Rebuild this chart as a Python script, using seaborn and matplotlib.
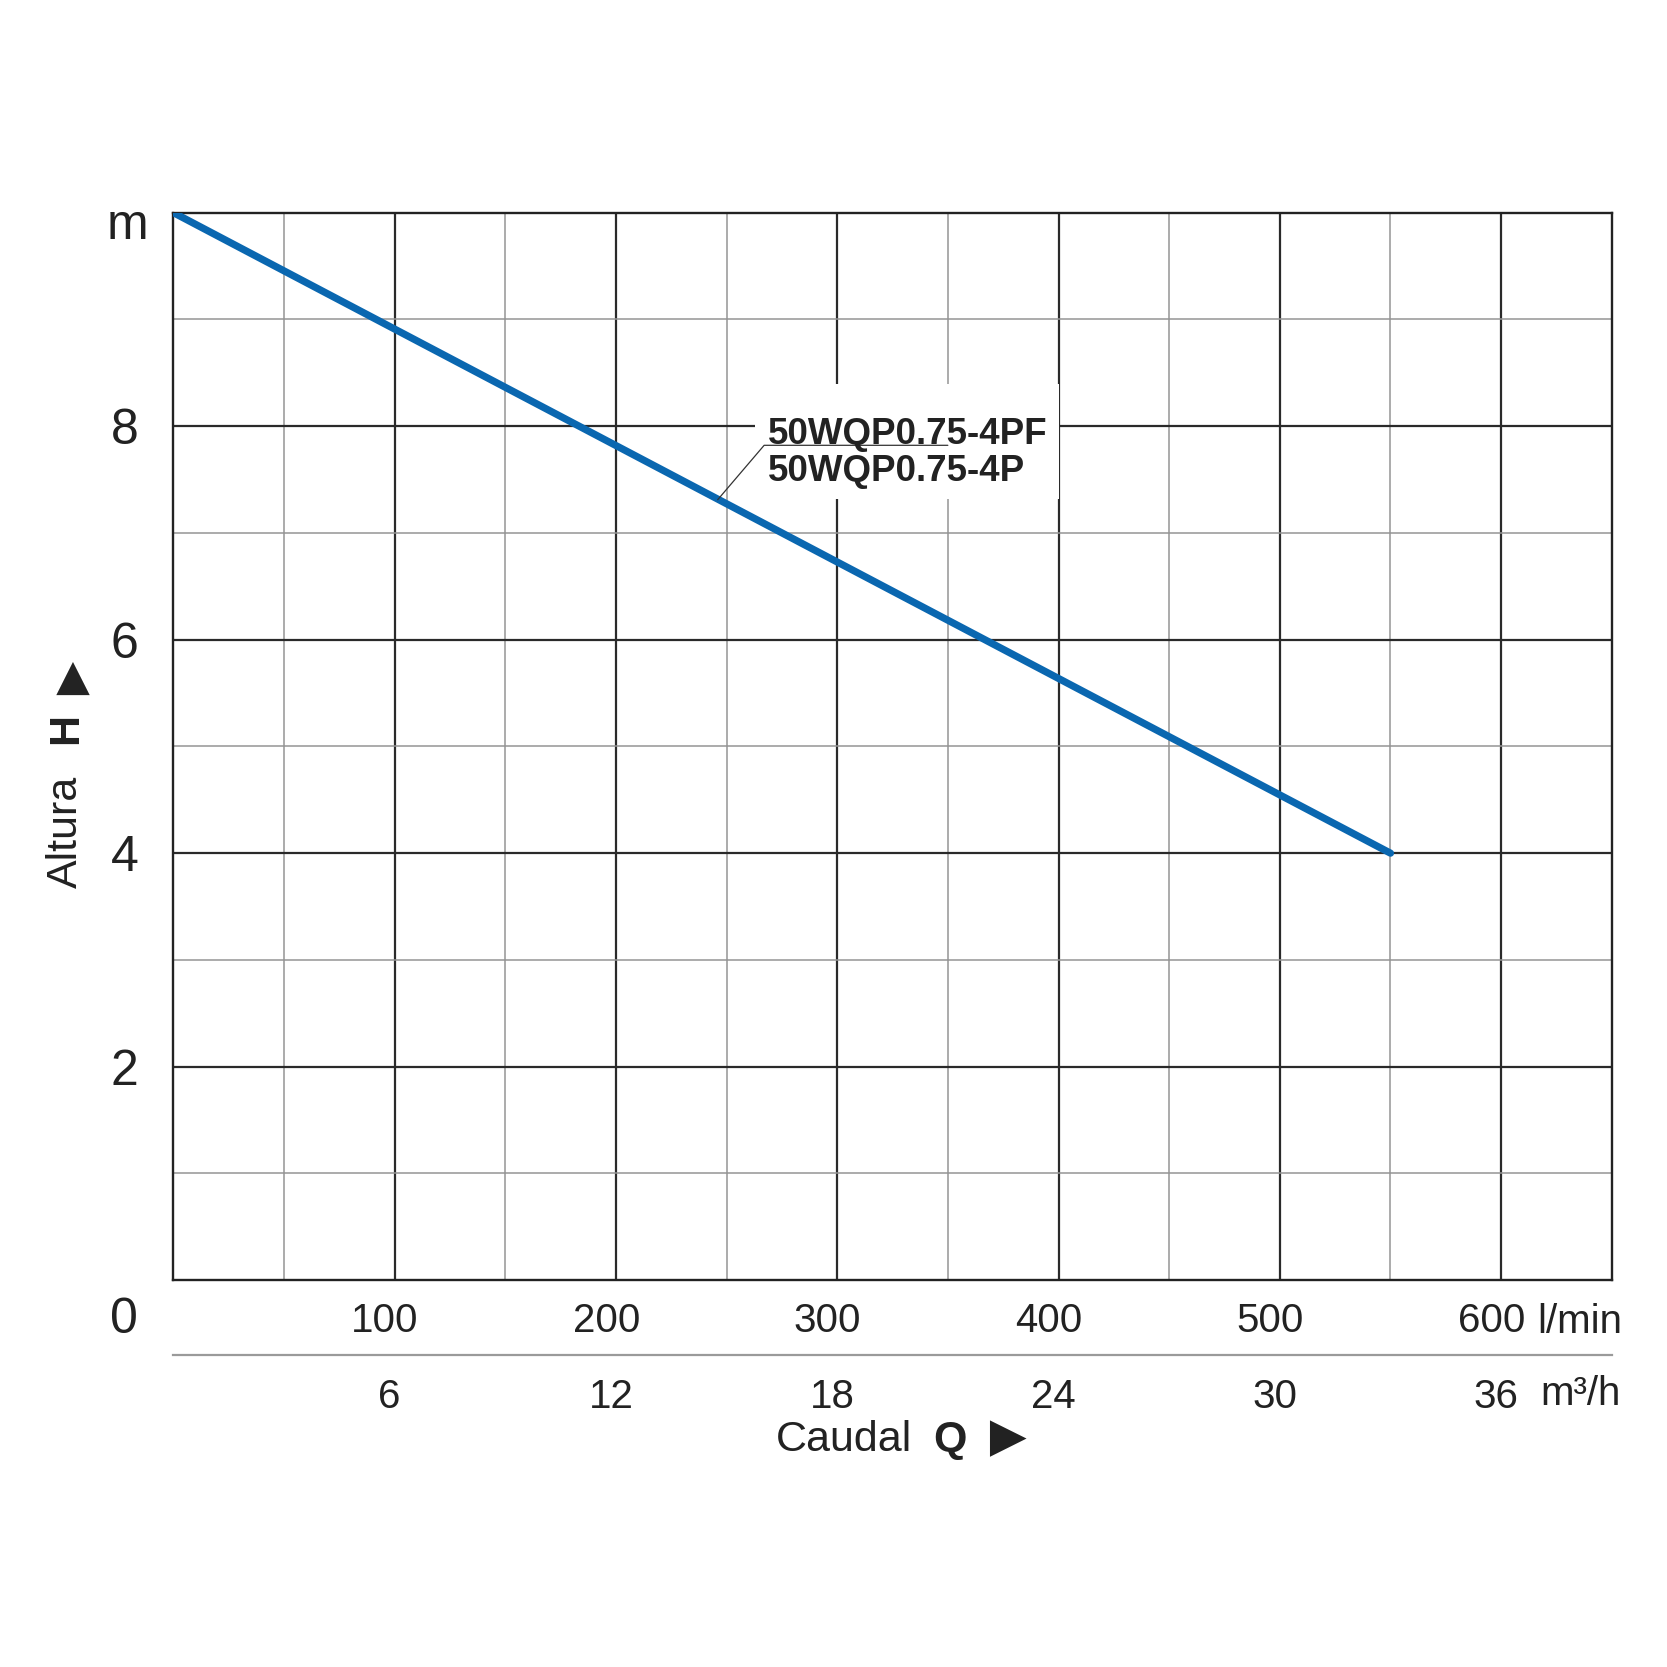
import matplotlib
matplotlib.use("Agg")
import matplotlib.pyplot as plt
import matplotlib.transforms as mtransforms
from matplotlib.patches import Rectangle
from matplotlib.ticker import MultipleLocator
import seaborn as sns

# Curve data
flow_lpm = [0, 550]
head_m = [10, 4]

# Axis ticks
x_ticks = [100, 200, 300, 400, 500, 600]
x_ticklabels = ["100", "200", "300", "400", "500", "600"]
m3h_ticks = [6, 12, 18, 24, 30, 36]
m3h_ticklabels = ["6", "12", "18", "24", "30", "36"]
y_ticks = [2, 4, 6, 8]
y_ticklabels = ["2", "4", "6", "8"]

model_names = ["50WQP0.75-4PF", "50WQP0.75-4P"]

sns.set_style("white")
plt.rcParams["font.family"] = ["Liberation Sans", "DejaVu Sans"]

fig = plt.figure(figsize=(16.67, 16.67), dpi=100)
ax = fig.add_axes([0.1039, 0.232, 0.863, 0.6405])

sns.lineplot(x=flow_lpm, y=head_m, ax=ax, color="#0a67b0", linewidth=5.2,
             solid_capstyle="round", zorder=3)

ax.set_xlim(0, 650)
ax.set_ylim(0, 10)
ax.set_xticks(x_ticks)
ax.set_xticklabels(x_ticklabels)
ax.set_yticks(y_ticks)
ax.set_yticklabels(y_ticklabels)
ax.xaxis.set_minor_locator(MultipleLocator(50))
ax.yaxis.set_minor_locator(MultipleLocator(1))
ax.set_axisbelow(True)
ax.grid(which="major", color="#2a2a2a", linewidth=1.6)
ax.grid(which="minor", color="#949494", linewidth=1.1)
ax.tick_params(axis="both", which="both", length=0)
ax.tick_params(axis="x", labelsize=29, pad=16, colors="#222222")
ax.tick_params(axis="y", labelsize=36, pad=25, colors="#222222")
for sp in ax.spines.values():
    sp.set_color("#222222")
    sp.set_linewidth(1.7)
ax.set_xlabel("")
ax.set_ylabel("")

# shift l/min labels slightly left like the original
shift = mtransforms.ScaledTranslation(-0.096, 0, fig.dpi_scale_trans)
for lab in ax.get_xticklabels():
    lab.set_transform(lab.get_transform() + shift)

# second flow scale in m3/h
sec = ax.secondary_xaxis(-0.0697, functions=(lambda q: q * 0.06, lambda q: q / 0.06))
sec.set_xticks(m3h_ticks)
sec.set_xticklabels(m3h_ticklabels)
sec.tick_params(length=0, labelsize=29, pad=17, colors="#222222")
sec.spines["bottom"].set_color("#9a9a9a")
sec.spines["bottom"].set_linewidth(1.6)
shift2 = mtransforms.ScaledTranslation(-0.05, 0, fig.dpi_scale_trans)
for lab in sec.get_xticklabels():
    lab.set_transform(lab.get_transform() + shift2)

# units and origin label
ax.text(-0.0318, 0.987, "m", transform=ax.transAxes, fontsize=36,
        ha="center", va="center", color="#222222")
ax.text(-0.034, -0.037, "0", transform=ax.transAxes, fontsize=36,
        ha="center", va="center", color="#222222")
ax.text(0.978, -0.0395, "l/min", transform=ax.transAxes, fontsize=29,
        ha="center", va="center", color="#222222")
ax.text(0.978, -0.1065, "m³/h", transform=ax.transAxes, fontsize=29,
        ha="center", va="center", color="#222222")

# axis titles
ax.text(0.466, -0.150, "Caudal", transform=ax.transAxes, fontsize=31,
        ha="center", va="center", color="#222222")
ax.text(0.540, -0.150, "Q", transform=ax.transAxes, fontsize=31,
        fontweight="bold", ha="center", va="center", color="#222222")
ax.text(0.580, -0.150, "►", transform=ax.transAxes, fontsize=44,
        ha="center", va="center", color="#222222")

ax.text(-0.0746, 0.420, "Altura", transform=ax.transAxes, fontsize=31,
        rotation=90, ha="center", va="center", color="#222222")
ax.text(-0.0746, 0.517, "H", transform=ax.transAxes, fontsize=31, rotation=90,
        fontweight="bold", ha="center", va="center", color="#222222")
ax.text(-0.0746, 0.574, "►", transform=ax.transAxes, fontsize=40, rotation=90,
        ha="center", va="center", color="#222222")

# model label with white box and leader line
ax.add_patch(Rectangle((263, 7.32), 137, 1.07, facecolor="white",
                       edgecolor="none", zorder=1))
ax.plot([246, 267, 350], [7.31, 7.82, 7.82], color="#333333",
        linewidth=0.9, zorder=4)
ax.text(268.6, 7.835, model_names[0], fontsize=26.5, fontweight="bold",
        ha="left", va="baseline", color="#222222", zorder=5)
ax.text(268.6, 7.485, model_names[1], fontsize=26.5, fontweight="bold",
        ha="left", va="baseline", color="#222222", zorder=5)

fig.savefig("out.png", dpi=100, facecolor="white")
